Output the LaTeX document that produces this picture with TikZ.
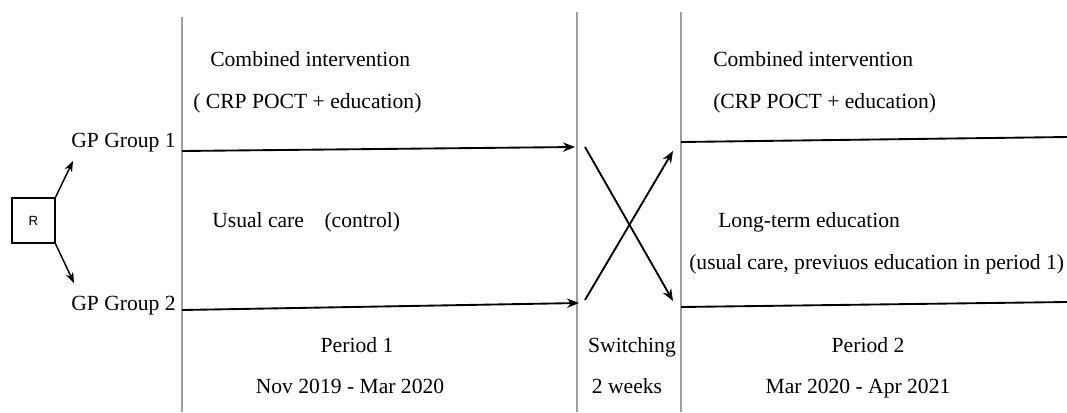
\documentclass[tikz,border=0pt]{standalone}
\usepackage{fontspec}
\setmainfont{Liberation Serif}
\setsansfont{Liberation Sans}
\usetikzlibrary{arrows.meta}

\begin{document}
\begin{tikzpicture}[x=0.75pt,y=-0.75pt,font=\fontsize{16.2}{19}\selectfont,
  txt/.style={inner sep=0, anchor=base west},
  mid/.style={inner sep=0, anchor=base},
  sep/.style={gray!75, line width=1.5pt},
  flow/.style={black, line width=1.4pt, -{Stealth[length=9pt,width=7pt]}}]
\clip (0,0) rectangle (1067,412);
% period separators
\foreach \x/\t in {182/17,577/12,681/12} {
 \draw[sep] (\x,\t)--(\x,412);
}
% randomisation
\node[draw, line width=1.1pt, minimum width=32pt, minimum height=34pt, inner sep=0,
  font=\sffamily\fontsize{10}{10}\selectfont] (rbox) at (33.5,220.5) {R};
\node[txt, anchor=base east] (grp1) at (176,147) {GP Group 1};
\node[txt, anchor=base east] (grp2) at (176,310) {GP Group 2};
\coordinate (up) at (73,161);
\coordinate (down) at (74,283);
\draw[flow, line width=1.1pt, -{Stealth[length=8pt,width=6pt]}] (rbox.north east)--(up);
\draw[flow, line width=1.1pt, -{Stealth[length=8pt,width=6pt]}] (rbox.south east)--(down);
% period 1
\coordinate (a1) at (182,151);
\coordinate (b1) at (575,147);
\coordinate (a2) at (182,310);
\coordinate (b2) at (579,303);
\draw[flow] (a1)--(b1);
\draw[flow] (a2)--(b2);
\node[txt] (ci1) at (210,66) {Combined intervention};
\node[txt] (crp1) at (193,108) {( CRP POCT + education)};
\node[txt] (uc) at (212,227) {Usual care\hspace{0.95em}(control)};
\node[mid] (p1) at (357,352) {Period 1};
\node[mid] (d1) at (350,393) {Nov 2019 - Mar 2020};
% switching
\coordinate (s1) at (585,147);
\coordinate (s2) at (673,301);
\coordinate (s3) at (585,300);
\coordinate (s4) at (673,151);
\draw[flow] (s1)--(s2);
\draw[flow] (s3)--(s4);
\node[mid] (sw) at (632,352) {Switching};
\node[mid] (wk) at (627,393) {2 weeks};
% period 2
\coordinate (c1) at (681,142);
\coordinate (e1) at (1067,137);
\coordinate (c2) at (681,307);
\coordinate (e2) at (1067,302);
\draw[line width=1.4pt] (c1)--(e1);
\draw[line width=1.4pt] (c2)--(e2);
\node[txt] (ci2) at (713,66) {Combined intervention};
\node[txt] (crp2) at (713,108) {(CRP POCT + education)};
\node[txt] (lt) at (718,227) {Long-term education};
\node[txt] (uc2) at (689,269) {(usual care, previuos education in period 1)};
\node[mid] (p2) at (868,352) {Period 2};
\node[mid] (d2) at (858,393) {Mar 2020 - Apr 2021};
\end{tikzpicture}
\end{document}
